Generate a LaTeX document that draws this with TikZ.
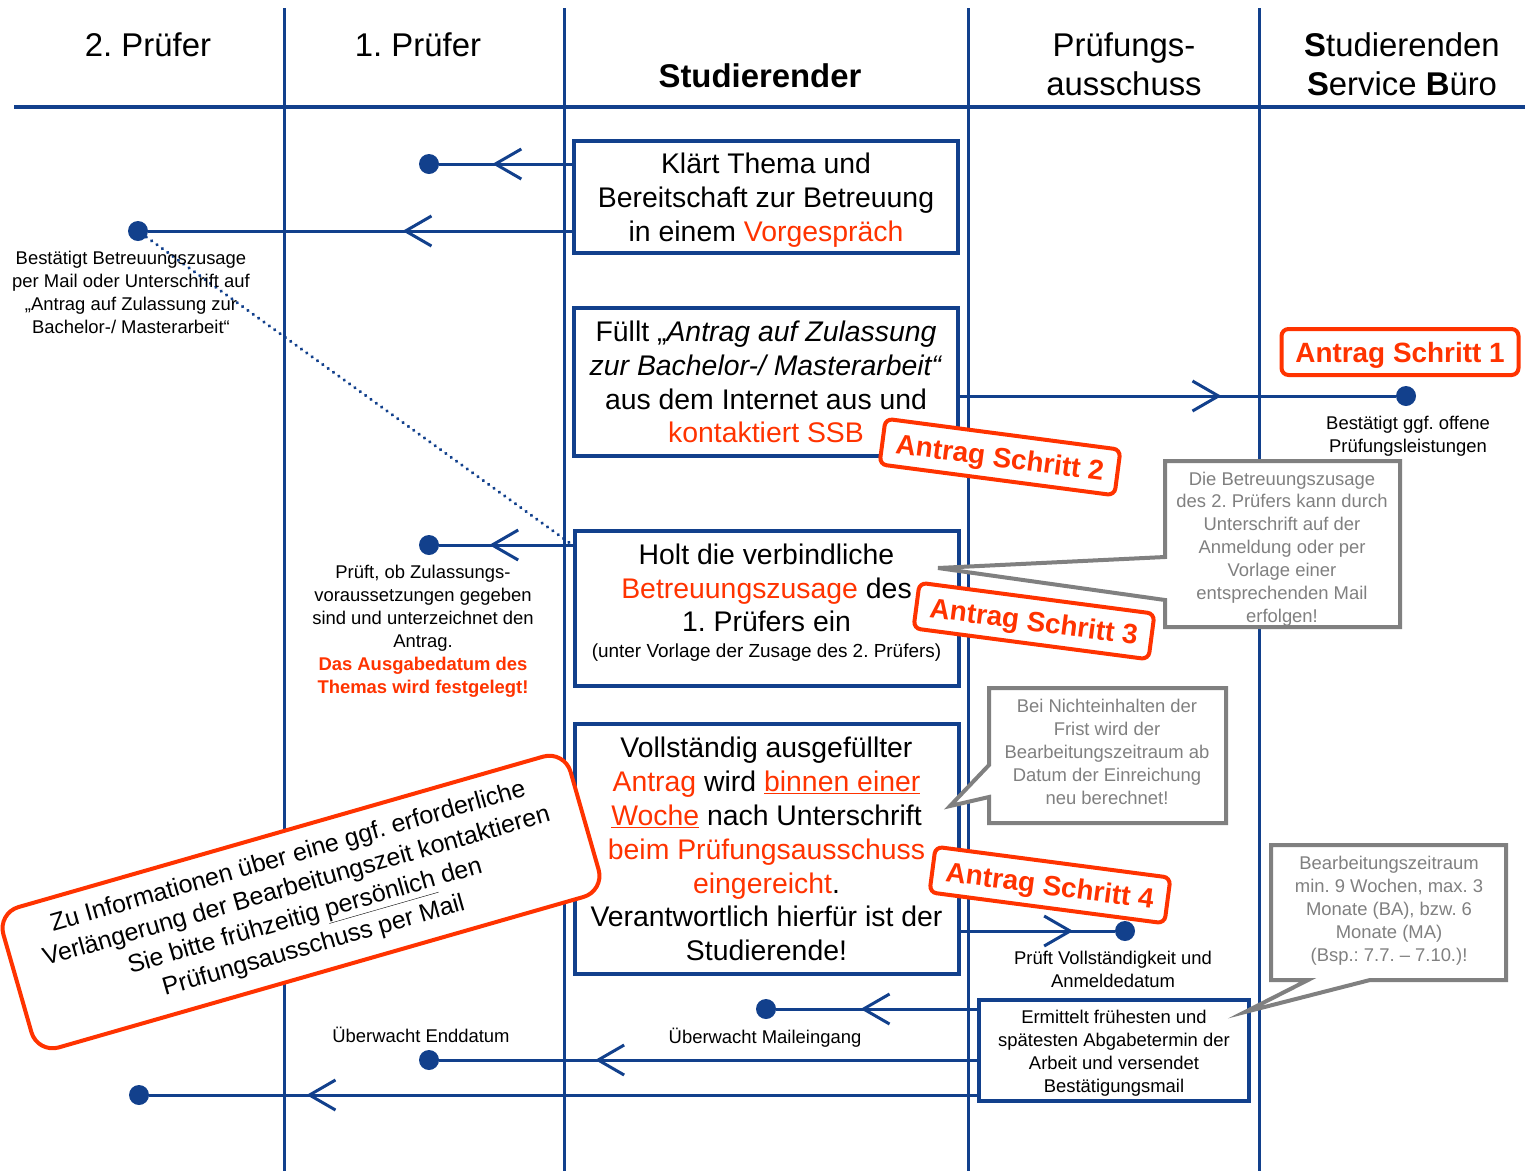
\documentclass[tikz,border=0pt]{standalone}
\usepackage{fontspec}
\setmainfont{Liberation Sans}
\usepackage{xcolor}
\usetikzlibrary{arrows.meta, decorations.markings, positioning, calc}
\definecolor{lineblue}{RGB}{18,64,140}
\definecolor{signalred}{RGB}{255,51,0}
\definecolor{notegrey}{RGB}{128,128,128}
\frenchspacing
\newcommand{\headfont}{\fontsize{33}{39}\selectfont}
\newcommand{\boxfont}{\fontsize{28.5}{34}\selectfont}
\newcommand{\lblfont}{\fontsize{18.5}{23}\selectfont}
\newcommand{\stampfont}{\fontsize{28}{34}\selectfont\bfseries}
\newcommand{\hintfont}{\fontsize{25}{31}\selectfont}
\newcommand{\rd}[1]{\textcolor{signalred}{#1}}

\begin{document}
\begin{tikzpicture}[x=1bp, y=-1bp,
    lane/.style={lineblue, line width=3bp},
    stepbox/.style={draw=lineblue, line width=4bp, fill=white, align=center, font=\boxfont, minimum width=384bp, inner sep=0pt},
    endpoint/.style={circle, fill=lineblue, inner sep=0pt, minimum size=20bp},
    flow/.style={lineblue, line width=3bp, postaction={decorate},
        decoration={markings, mark=at position #1 with {\arrow{Straight Barb[length=26bp, width=30bp]}}}},
    dotline/.style={lineblue, line width=3.5bp, line cap=round, dash pattern=on 0.1bp off 6.5bp},
    lbl/.style={align=center, font=\lblfont, inner sep=0pt},
    callout/.style={draw=notegrey, line width=4bp, fill=white, line join=miter},
    calltext/.style={align=center, font=\lblfont, text=notegrey, inner sep=0pt},
    stampbox/.style={draw=signalred, line width=4bp, fill=white, rounded corners=7bp, font=\stampfont, text=signalred, minimum width=237bp, minimum height=46bp, inner sep=0pt, text height=26bp, text depth=6bp},
    hintbox/.style={draw=signalred, line width=4bp, fill=white, rounded corners=22bp, align=center, font=\hintfont, minimum width=590bp, minimum height=146bp, inner sep=0pt}]
    \useasboundingbox (0,0) rectangle (1525,1171);

    % Swimlanes and header
    \foreach \x in {284,564,968,1259} \draw[lane] (\x,8) -- (\x,1171);
    \draw[lineblue, line width=3.5bp] (14,107) -- (1525,107);
    \node[font=\headfont] (h2) at (148,45) {2. Prüfer};
    \node[font=\headfont] (h1) at (418,45) {1. Prüfer};
    \node[font=\headfont\bfseries] (hs) at (760,76) {Studierender};
    \node[font=\headfont, align=center] (hp) at (1124,64) {Prüfungs-\\ausschuss};
    \node[font=\headfont, align=center] (hb) at (1402,64) {\textbf{S}tudierenden\\\textbf{S}ervice \textbf{B}üro};

    % Steps of the student
    \node[stepbox, minimum height=112bp] (b1) at (766,197) {\rule{0pt}{27bp}Klärt Thema und\\Bereitschaft zur Betreuung\\in einem \rd{Vorgespräch}};
    \node[stepbox, minimum height=148bp] (b2) at (766,382) {Füllt „\textit{Antrag auf Zulassung}\\\textit{zur Bachelor-/ Masterarbeit“}\\aus dem Internet aus und\\\rd{kontaktiert SSB}};
    \node[stepbox, minimum height=155bp] (b3) at (766.5,608.5) {\rule{0pt}{27bp}Holt die verbindliche\\\rd{Betreuungszusage} des\\1. Prüfers ein\\[-8bp]{\fontsize{19}{23}\selectfont (unter Vorlage der Zusage des 2. Prüfers)\rule[-22bp]{0pt}{1bp}}};
    \node[stepbox, minimum height=250bp] (b4) at (766.5,849) {Vollständig ausgefüllter\\\rd{Antrag} wird \rd{\underline{binnen einer}}\\\rd{\underline{Woche}} nach Unterschrift\\\rd{beim Prüfungsausschuss}\\\rd{eingereicht}.\\Verantwortlich hierfür ist der\\Studierende!};
    \node[stepbox, font=\lblfont, minimum width=270bp, minimum height=101bp] (b5) at (1114,1050.5) {\rule{0pt}{19.5bp}Ermittelt frühesten und\\spätesten Abgabetermin der\\Arbeit und versendet\\Bestätigungsmail};

    % End points
    \node[endpoint] (d1) at (429,164) {};
    \node[endpoint] (d2) at (138,231) {};
    \node[endpoint] (d3) at (1406,396) {};
    \node[endpoint] (d4) at (429,545) {};
    \node[endpoint] (d5) at (1125,931) {};
    \node[endpoint] (d6) at (766,1009) {};
    \node[endpoint] (d7) at (429,1060) {};
    \node[endpoint] (d8) at (139,1095) {};

    % Messages
    \draw[flow=0.6] (b1.west |- d1) -- (d1);
    \draw[flow=0.4] (b1.west |- d2) -- (d2);
    \draw[flow=0.6] (b2.east |- d3) -- (d3);
    \draw[flow=0.625] (b3.west |- d4) -- (d4);
    \draw[flow=0.73] (b4.east |- d5) -- (d5);
    \draw[flow=0.58] (b5.west |- d6) -- (d6);
    \draw[flow=0.71] (b5.west |- d7) -- (d7);
    \draw[flow=0.81] (b5.west |- d8) -- (d8);
    \draw[dotline] (d2) -- (b3.west |- d4);

    % Texts at the end points
    \node[lbl, anchor=north] (t2) at (131,251) {Bestätigt Betreuungszusage\\per Mail oder Unterschrift auf\\„Antrag auf Zulassung zur\\Bachelor-/ Masterarbeit“};
    \node[lbl, anchor=north] (t3) at (1408,416) {Bestätigt ggf. offene\\Prüfungsleistungen};
    \node[lbl, anchor=north] (t4) at (423,565) {Prüft, ob Zulassungs-\\voraussetzungen gegeben\\sind und unterzeichnet den\\Antrag.\\\rd{\textbf{Das Ausgabedatum des}}\\\rd{\textbf{Themas wird festgelegt!}}};
    \node[lbl, anchor=north] (t5) at (1113,951) {Prüft Vollständigkeit und\\Anmeldedatum};
    \node[lbl] (t6) at (765,1038) {Überwacht Maileingang};
    \node[lbl] (t7) at (421,1035) {Überwacht Enddatum};

    % Grey callouts
    \draw[callout] (1165,461) -- (1400,461) -- (1400,627) -- (1165,627) -- (1165,600) -- (938,568) -- (1165,557) -- cycle;
    \node[calltext] (c1) at (1282,549) {Die Betreuungszusage\\des 2. Prüfers kann durch\\Unterschrift auf der\\Anmeldung oder per\\Vorlage einer\\entsprechenden Mail\\erfolgen!};
    \draw[callout] (989,688) -- (1226,688) -- (1226,823) -- (989,823) -- (989,797) -- (950,806) -- (989,765) -- cycle;
    \node[calltext] (c2) at (1107,752) {Bei Nichteinhalten der\\Frist wird der\\Bearbeitungszeitraum ab\\Datum der Einreichung\\neu berechnet!};
    \draw[callout] (1271,845) -- (1506,845) -- (1506,980) -- (1370,980) -- (1245,1012) -- (1308,980) -- (1271,980) -- cycle;
    \node[calltext] (c3) at (1389,911) {Bearbeitungszeitraum\\min. 9 Wochen, max. 3\\Monate (BA), bzw. 6\\Monate (MA)\\(Bsp.: 7.7. – 7.10.)!};

    % Stamps
    \node[stampbox] (s1) at (1400,352) {Antrag Schritt 1};
    \node[stampbox, rotate=-7.5] (s2) at (1000,457) {Antrag Schritt 2};
    \node[stampbox, rotate=-7.5] (s3) at (1034,621) {Antrag Schritt 3};
    \node[stampbox, rotate=-7.5] (s4) at (1050,885) {Antrag Schritt 4};

    % Hint on extension
    \node[hintbox, rotate=16] (hint) at (301,902) {Zu Informationen über eine ggf. erforderliche\\Verlängerung der Bearbeitungszeit kontaktieren\\Sie bitte frühzeitig \underline{persönlich} den\\Prüfungsausschuss per Mail};
\end{tikzpicture}
\end{document}
